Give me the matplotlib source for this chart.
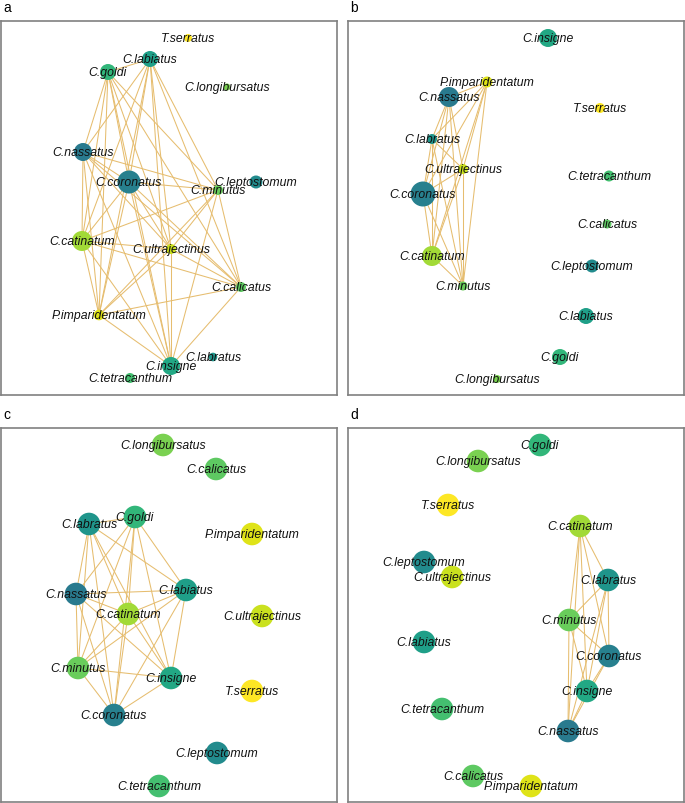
import itertools
import numpy as np
import matplotlib.pyplot as plt
from matplotlib import cm
from matplotlib.patches import Circle

plt.rcParams['font.family'] = ['Liberation Sans', 'DejaVu Sans']

# species and colour position on viridis (same for all panels)
species = ["C.nassatus", "C.coronatus", "C.leptostomum", "C.labratus", "C.labiatus",
           "C.insigne", "C.goldi", "C.tetracanthum", "C.calicatus", "C.minutus",
           "C.longibursatus", "C.catinatum", "C.ultrajectinus", "P.imparidentatum", "T.serratus"]
color_pos = [0.41, 0.43, 0.48, 0.52, 0.56, 0.60, 0.66, 0.70, 0.75, 0.77,
             0.80, 0.86, 0.92, 0.95, 1.00]

# layout of each panel, pixels from the top-left corner of the box
# panel a
a_names = ["T.serratus", "C.labiatus", "C.goldi", "C.longibursatus", "C.nassatus",
           "C.coronatus", "C.leptostomum", "C.minutus", "C.catinatum", "C.ultrajectinus",
           "C.calicatus", "P.imparidentatum", "C.insigne", "C.labratus", "C.tetracanthum"]
a_x = [187, 149, 107, 226, 82, 128, 255, 217, 81, 170, 240, 98, 170, 212, 129]
a_y = [17, 38, 51, 66, 131, 161, 161, 169, 220, 228, 266, 294, 345, 336, 357]
a_r = [4, 8, 8, 3.5, 9, 11.5, 6.5, 5, 10, 5, 5, 5.3, 9, 4.3, 5]
a_linked = ["C.labiatus", "C.goldi", "C.nassatus", "C.coronatus", "C.minutus",
            "C.catinatum", "C.ultrajectinus", "C.calicatus", "P.imparidentatum", "C.insigne"]

# panel b
b_names = ["C.insigne", "P.imparidentatum", "C.nassatus", "T.serratus", "C.labratus",
           "C.ultrajectinus", "C.tetracanthum", "C.coronatus", "C.calicatus", "C.catinatum",
           "C.leptostomum", "C.minutus", "C.labiatus", "C.goldi", "C.longibursatus"]
b_x = [200, 139, 101, 252, 84, 115, 261, 75, 259, 84, 244, 115, 238, 212, 149]
b_y = [17, 61, 76, 87, 118, 148, 155, 173, 203, 235, 245, 265, 295, 336, 358]
b_r = [9, 5.5, 10, 5, 5, 5, 5.5, 12.5, 4.5, 10, 6.5, 4.5, 8, 8, 4]
b_linked = ["P.imparidentatum", "C.nassatus", "C.labratus", "C.ultrajectinus",
            "C.coronatus", "C.catinatum", "C.minutus"]

# panel c
c_names = ["C.longibursatus", "C.calicatus", "C.labratus", "C.goldi", "P.imparidentatum",
           "C.nassatus", "C.labiatus", "C.catinatum", "C.ultrajectinus", "C.minutus",
           "C.insigne", "T.serratus", "C.coronatus", "C.leptostomum", "C.tetracanthum"]
c_x = [162, 215, 88, 134, 251, 75, 185, 127, 261, 77, 170, 251, 113, 216, 158]
c_y = [17, 41, 96, 89, 106, 166, 162, 186, 188, 240, 250, 263, 287, 325, 358]
c_r = [11.3] * 15
c_linked = ["C.labratus", "C.goldi", "C.nassatus", "C.labiatus", "C.catinatum",
            "C.minutus", "C.insigne", "C.coronatus"]

# panel d
d_names = ["C.goldi", "C.longibursatus", "T.serratus", "C.catinatum", "C.leptostomum",
           "C.ultrajectinus", "C.labratus", "C.minutus", "C.labiatus", "C.coronatus",
           "C.insigne", "C.tetracanthum", "C.nassatus", "C.calicatus", "P.imparidentatum"]
d_x = [192, 130, 100, 232, 76, 104, 260, 221, 76, 261, 239, 94, 220, 125, 183]
d_y = [17, 33, 77, 98, 134, 149, 152, 192, 214, 228, 263, 281, 303, 348, 358]
d_r = [11.3] * 15
d_linked = ["C.catinatum", "C.labratus", "C.minutus", "C.coronatus", "C.insigne", "C.nassatus"]

W, H = 685, 804
BOX_W, BOX_H = 336, 374
panels = [
    ("a", 1, 22, a_names, a_x, a_y, a_r, a_linked),
    ("b", 348, 22, b_names, b_x, b_y, b_r, b_linked),
    ("c", 1, 429, c_names, c_x, c_y, c_r, c_linked),
    ("d", 348, 429, d_names, d_x, d_y, d_r, d_linked),
]

colors = dict(zip(species, cm.viridis(color_pos)))

fig = plt.figure(figsize=(W / 100, H / 100), dpi=100)

for letter, left, top, names, xs, ys, rs, linked in panels:
    ax = fig.add_axes([left / W, 1 - (top + BOX_H) / H, BOX_W / W, BOX_H / H])
    ax.set_xlim(0, BOX_W)
    ax.set_ylim(BOX_H, 0)
    ax.set_xticks([])
    ax.set_yticks([])
    for s in ax.spines.values():
        s.set_color("#808080")
        s.set_linewidth(1.2)

    pos = {n: (x, y) for n, x, y in zip(names, xs, ys)}
    # edges
    for u, v in itertools.combinations(linked, 2):
        ax.plot([pos[u][0], pos[v][0]], [pos[u][1], pos[v][1]],
                color="#e6bd6f", lw=0.75, zorder=1)
    # nodes + labels
    for n, x, y, r in zip(names, xs, ys, rs):
        ax.add_patch(Circle((x, y), r, color=colors[n], lw=0, zorder=2))
        ax.text(x, y, n, style="italic", fontsize=8.8, ha="center", va="center",
                color="#111111", zorder=3)

    fig.text((left + 2) / W, 1 - (top - 14) / H, letter, fontsize=10,
             ha="left", va="center")

fig.savefig("out.png", dpi=100)
